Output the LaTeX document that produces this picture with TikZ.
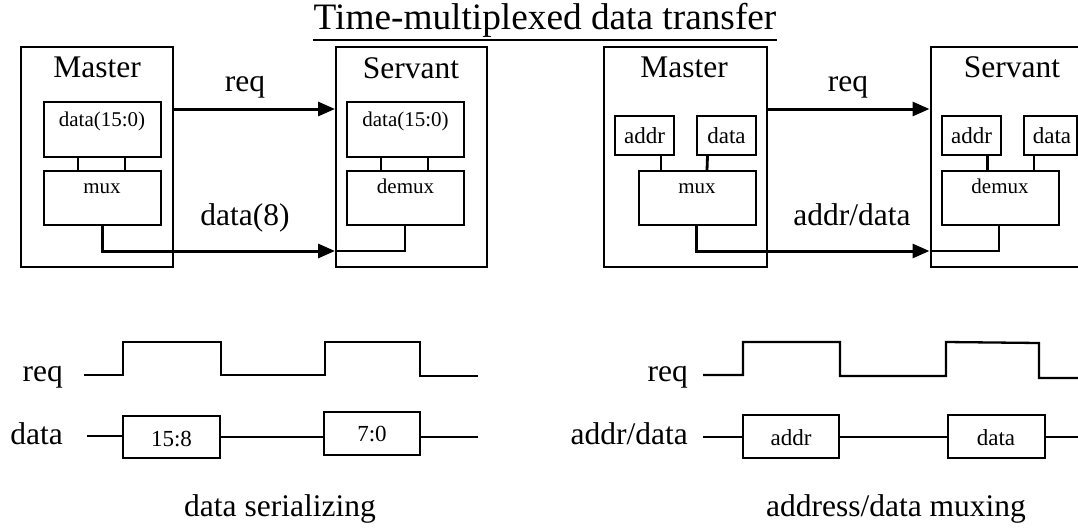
\documentclass[tikz,border=0pt]{standalone}
\usepackage{fontspec}
\setmainfont{Liberation Serif}
\usetikzlibrary{arrows.meta,fit}
\begin{document}
\begin{tikzpicture}[x=1pt,y=-1pt,
  box/.style={draw, line width=2pt, inner sep=0pt},
  wire/.style={line width=2.8pt},
  arr/.style={line width=3pt, -{Triangle[length=17pt,width=14pt]}},
  txt/.style={inner sep=0pt, anchor=base},
  big/.style={font=\fontsize{31.5}{34}\selectfont},
  sm/.style={font=\fontsize{21}{23}\selectfont},
  smb/.style={font=\fontsize{23}{25}\selectfont},
  wave/.style={line width=2.3pt},
  dline/.style={line width=1.8pt},
]
\useasboundingbox (0,0) rectangle (1078,530);
\clip (0,0) rectangle (1078,530);

% title
\node[txt, font=\fontsize{37.3}{40}\selectfont] (title) at (545,29) {Time-multiplexed data transfer};
\draw[line width=2pt] ([yshift=-11pt]title.base west) -- ([yshift=-11pt]title.base east);

\coordinate (r) at (0,109);
\coordinate (o) at (0,251);

% ---------- left: data serializing ----------
\node[box, fit={(21,47)(173,267)}] (m1) {};
\node[txt,big] (m1t) at (97,77.5) {Master};
\node[box, fit={(43.5,102)(160.5,157)}] (m1d) {};
\node[txt,sm] (m1dt) at (102,126) {data(15:0)};
\node[box, fit={(43.5,171)(160.5,225)}] (m1m) {};
\node[txt,sm] (m1mt) at (102,193) {mux};
\draw[wire] ([xshift=35.5pt]m1d.south west) -- ([xshift=35.5pt]m1m.north west);
\draw[wire] ([xshift=82.5pt]m1d.south west) -- ([xshift=82.5pt]m1m.north west);

\node[box, fit={(336,47)(487,267)}] (s1) {};
\node[txt,big] (s1t) at (411,78) {Servant};
\node[box, fit={(347,102)(464,157)}] (s1d) {};
\node[txt,sm] (s1dt) at (405.5,126) {data(15:0)};
\node[box, fit={(347,171)(464,225)}] (s1m) {};
\node[txt,sm] (s1mt) at (405.5,193) {demux};
\draw[wire] ([xshift=35pt]s1d.south west) -- ([xshift=35pt]s1m.north west);
\draw[wire] ([xshift=82pt]s1d.south west) -- ([xshift=82pt]s1m.north west);

\draw[arr] (m1.east |- r) -- (r -| s1.west);
\draw[arr] ([xshift=59.5pt]m1m.south west) |- (o -| s1.west);
\draw[wire] ([xshift=59pt]s1m.south west) |- (o -| s1.west);
\node[txt,big] (l1r) at (245,91) {req};
\node[txt,big] (l1d) at (245,225) {data(8)};

% ---------- right: address/data muxing ----------
\node[box, fit={(603.5,47)(767,267)}] (m2) {};
\node[txt,big] (m2t) at (684,77.5) {Master};
\node[box, fit={(615,116)(674,155)}] (m2a) {};
\node[txt,smb] (m2at) at (644.5,143) {addr};
\node[box, fit={(697,116)(756,155)}] (m2d) {};
\node[txt,smb] (m2dt) at (726.5,143) {data};
\node[box, fit={(638.5,171)(756,225)}] (m2m) {};
\node[txt,sm] (m2mt) at (697,193) {mux};
\draw[wire] ([xshift=47pt]m2a.south west) -- ([xshift=23.5pt]m2m.north west);
\draw[wire] ([xshift=11.5pt]m2d.south west) -- ([xshift=69.5pt]m2m.north west);

\node[box, fit={(930.5,47)(1100,267)}] (s2) {};
\node[txt,big] (s2t) at (1012,77) {Servant};
\node[box, fit={(942,115.5)(1001,155)}] (s2a) {};
\node[txt,smb] (s2at) at (971.5,143) {addr};
\node[box, fit={(1023.5,115.5)(1077,155)}] (s2d) {};
\node[txt,smb] (s2dt) at (1052,143) {data};
\node[box, fit={(942,171)(1058.5,225)}] (s2m) {};
\node[txt,sm] (s2mt) at (1000,193) {demux};
\draw[wire] ([xshift=46.5pt]s2a.south west) -- ([xshift=46.5pt]s2m.north west);
\draw[wire] ([xshift=11.5pt]s2d.south west) -- ([xshift=93pt]s2m.north west);

\draw[arr] (m2.east |- r) -- (r -| s2.west);
\draw[arr] ([xshift=58.5pt]m2m.south west) |- (o -| s2.west);
\draw[wire] ([xshift=58pt]s2m.south west) |- (o -| s2.west);
\node[txt,big] (l2r) at (848,91) {req};
\node[txt,big] (l2d) at (852,225) {addr/data};

% ---------- timing left ----------
\node[txt,big,anchor=base east] (t1r) at (63,381) {req};
\draw[wave] (84,375) -- (123,375) -- (123,342) -- (221,342) -- (221,375) -- (325,375) -- (325,342) -- (420,342) -- (420,376) -- (478,376);
\node[txt,big,anchor=base east] (t1d) at (63,444) {data};
\node[box, fit={(123,416)(220,458)}] (b1) {};
\node[txt,smb] (b1t) at (171.5,446) {15:8};
\node[box, fit={(324,412)(420,455)}] (b2) {};
\node[txt,smb] (b2t) at (372,441) {7:0};
\coordinate (d1s) at (87,436);
\coordinate (d1e) at (478,437);
\draw[dline] (d1s) -- (d1s -| b1.west);
\draw[dline] (b1.east |- d1e) -- (d1e -| b2.west);
\draw[dline] (b2.east |- d1e) -- (d1e);
\node[txt,big] (c1) at (280,516) {data serializing};

% ---------- timing right ----------
\node[txt,big,anchor=base east] (t2r) at (688,381) {req};
\draw[wave] (703,375) -- (743,375) -- (743,342) -- (840,342) -- (840,376) -- (946,376) -- (946,342) -- (1039,343) -- (1039,378) -- (1085,378);
\node[txt,big,anchor=base east] (t2d) at (688,444) {addr/data};
\node[box, fit={(743,415)(839,458)}] (b3) {};
\node[txt,smb] (b3t) at (791,445) {addr};
\node[box, fit={(948,415)(1044.5,458)}] (b4) {};
\node[txt,smb] (b4t) at (996,445) {data};
\coordinate (d2s) at (703,437);
\coordinate (d2e) at (1085,437);
\draw[dline] (d2s) -- (d2s -| b3.west);
\draw[dline] (b3.east |- d2e) -- (d2e -| b4.west);
\draw[dline] (b4.east |- d2e) -- (d2e);
\node[txt,big] (c2) at (896,516) {address/data muxing};
\end{tikzpicture}
\end{document}
